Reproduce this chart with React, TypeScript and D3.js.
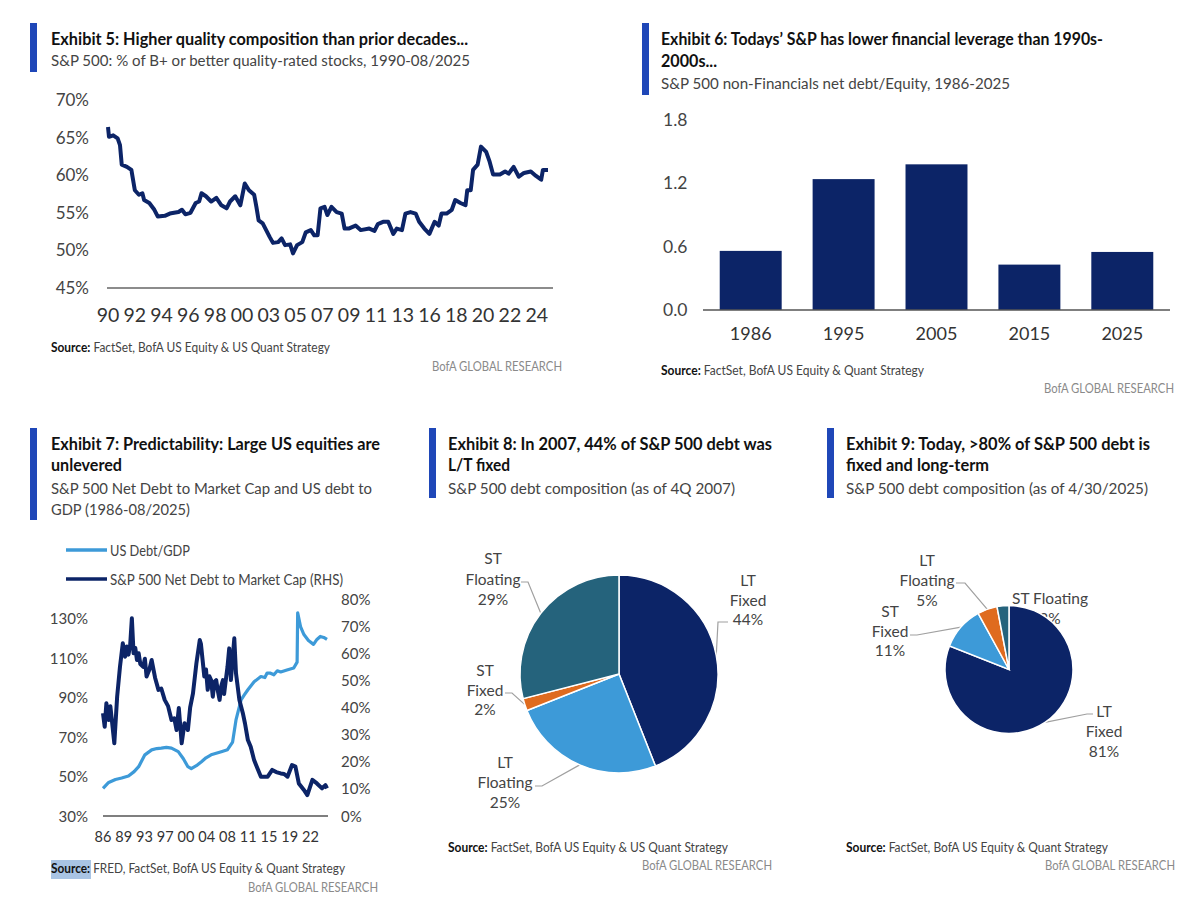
import React from 'react';
import * as d3 from 'd3';

const FONT = 'Lato, "Open Sans", sans-serif';
const NAVY = '#0c2467';
const LIGHT = '#3d9ad8';
const ORANGE = '#df6b1f';
const TEAL = '#25637c';
const BAR_BLUE = '#1f47b8';
const GREY = '#444';

// Exhibit 5: % of B+ or better quality-rated stocks (year, %)
const qualityTickLabels = ['90', '92', '94', '96', '98', '00', '03', '05', '07', '09', '11', '13', '16', '18', '20', '22', '24'];
const qualityYTicks = [45, 50, 55, 60, 65, 70];
const qualitySeries: [number, number][] = [
  [1990.0, 66.4], [1990.08, 65.1], [1990.42, 65.3], [1990.78, 64.9], [1990.97, 64.0], [1991.11, 61.4],
  [1991.53, 61.1], [1991.89, 60.7], [1992.17, 58.0], [1992.5, 57.4], [1992.78, 57.6], [1992.92, 56.7],
  [1993.34, 56.3], [1993.75, 55.4], [1994.03, 54.5], [1994.59, 54.6], [1995.0, 54.9], [1995.34, 55.0],
  [1995.7, 55.1], [1995.98, 55.4], [1996.26, 54.8], [1996.67, 55.0], [1997.09, 56.3], [1997.37, 56.5],
  [1997.56, 57.6], [1997.92, 57.2], [1998.34, 56.5], [1998.76, 57.0], [1999.17, 56.0], [1999.59, 55.6],
  [1999.87, 56.5], [2000.29, 57.2], [2000.7, 56.0], [2001.06, 58.9], [2001.4, 58.0], [2001.82, 57.4],
  [2002.0, 55.8], [2002.18, 54.0], [2002.51, 53.6], [2002.79, 52.7], [2003.07, 51.8], [2003.34, 51.0],
  [2003.76, 51.1], [2004.04, 51.6], [2004.32, 50.7], [2004.73, 50.8], [2004.96, 49.6], [2005.29, 50.7],
  [2005.71, 51.1], [2005.99, 52.4], [2006.4, 52.7], [2006.68, 52.0], [2006.95, 52.0], [2007.18, 55.6],
  [2007.51, 55.8], [2007.74, 54.7], [2008.07, 55.8], [2008.49, 55.1], [2008.9, 54.9], [2009.13, 52.9],
  [2009.46, 52.9], [2010.02, 53.3], [2010.43, 52.7], [2011.13, 52.9], [2011.55, 52.6], [2011.82, 53.5],
  [2012.24, 53.8], [2012.66, 53.8], [2013.07, 52.2], [2013.35, 52.9], [2013.77, 52.7], [2014.05, 54.9],
  [2014.46, 55.1], [2014.88, 54.9], [2015.16, 53.8], [2015.58, 52.9], [2015.99, 52.2], [2016.41, 53.8],
  [2016.74, 53.3], [2016.97, 54.9], [2017.38, 54.9], [2017.8, 55.4], [2018.08, 56.7], [2018.5, 56.3],
  [2018.91, 56.0], [2019.05, 58.0], [2019.33, 58.0], [2019.52, 60.7], [2019.89, 61.4], [2020.16, 63.8],
  [2020.58, 63.1], [2020.86, 61.8], [2021.14, 60.1], [2021.69, 60.1], [2022.11, 60.5], [2022.39, 60.2],
  [2022.8, 61.1], [2023.22, 59.8], [2023.64, 60.3], [2024.19, 60.5], [2024.61, 59.9], [2025.03, 59.4],
  [2025.17, 60.7], [2025.58, 60.7],
];

// Exhibit 6: net debt / equity
const leverageYears = ['1986', '1995', '2005', '2015', '2025'];
const leverageValues = [0.56, 1.24, 1.38, 0.43, 0.55];
const leverageTicks = [0, 0.6, 1.2, 1.8];

// Exhibit 7: US debt/GDP (LHS) and S&P 500 net debt to market cap (RHS)
const debtTickLabels = ['86', '89', '93', '97', '00', '04', '08', '11', '15', '19', '22'];
const leftTicks = [30, 50, 70, 90, 110, 130];
const rightTicks = [0, 10, 20, 30, 40, 50, 60, 70, 80];
const usDebtGdp: [number, number][] = [
  [1986.0, 44], [1986.5, 45.5], [1987.0, 47], [1988.2, 48.5], [1989.3, 49.3], [1990.5, 50.3],
  [1991.5, 52.5], [1992.3, 55], [1993.4, 61], [1994.6, 63.5], [1995.5, 64.2], [1996.3, 64.4],
  [1997.2, 64.8], [1998.1, 64.4], [1999.3, 62.6], [2000.2, 59], [2001.0, 55], [2001.6, 54],
  [2002.5, 55.5], [2003.4, 57.5], [2004.2, 59.5], [2005.1, 61], [2006.0, 61.8], [2006.9, 62.6],
  [2008.0, 63.6], [2008.9, 67.5], [2009.5, 78.7], [2010.4, 88.9], [2011.0, 91.5], [2011.6, 94],
  [2012.7, 98], [2013.9, 100.7], [2014.6, 100.2], [2015.0, 102.5], [2015.6, 102.4], [2016.2, 101.6],
  [2016.8, 103.6], [2017.4, 103], [2018.5, 104], [2019.7, 105], [2020.3, 108], [2020.4, 133],
  [2020.9, 126], [2021.5, 122], [2022.3, 119], [2023.2, 117], [2023.8, 119.5], [2024.4, 121],
  [2025.0, 120.5], [2025.58, 119.5],
];
const spNetDebt: [number, number][] = [
  [1986.0, 37.9], [1986.3, 32.9], [1986.6, 41.6], [1987.0, 35.4], [1987.3, 40.5], [1988.0, 26.8],
  [1988.5, 44], [1989.0, 55], [1989.5, 63.7], [1989.9, 58.7], [1990.2, 62.5], [1990.5, 59.5],
  [1990.8, 63], [1991.1, 72.9], [1991.4, 60], [1991.7, 62], [1992.0, 57.5], [1992.3, 60],
  [1992.6, 56], [1993.1, 55], [1993.4, 58], [1993.7, 51.4], [1994.2, 54], [1994.6, 57.5],
  [1995.2, 51], [1995.8, 46.5], [1996.3, 47], [1996.9, 42.8], [1997.5, 40.5], [1998.1, 35.4],
  [1998.6, 36], [1999.0, 31.7], [1999.4, 39.8], [1999.9, 26.8], [2000.4, 34.2], [2001.0, 31.7],
  [2001.4, 40], [2001.9, 45.2], [2002.5, 56.2], [2003.1, 64.9], [2003.3, 63.5], [2003.9, 51.4],
  [2004.2, 54], [2004.5, 46.5], [2004.8, 51.5], [2005.1, 50.1], [2005.4, 44], [2005.7, 49.5],
  [2006.0, 50.1], [2006.3, 46], [2006.6, 42.8], [2006.9, 48], [2007.2, 50.1], [2007.4, 45],
  [2007.7, 50.1], [2008.0, 55], [2008.3, 61.8], [2008.6, 50.1], [2008.9, 58], [2009.2, 65.5],
  [2009.5, 52.6], [2010.1, 42.8], [2010.7, 38], [2011.1, 34], [2011.6, 28], [2012.1, 25.5],
  [2012.7, 20.6], [2013.3, 17.5], [2013.9, 14.5], [2015.1, 14.5], [2015.9, 17], [2016.6, 16.2],
  [2017.4, 15.7], [2018.0, 15.5], [2018.6, 14.5], [2019.4, 18.8], [2020.0, 18.2], [2020.6, 12],
  [2021.5, 9.6], [2022.1, 7.7], [2023.0, 13.3], [2023.8, 12], [2024.7, 10.2], [2025.3, 11.4],
  [2025.58, 10.2],
];

// Exhibit 8 / 9: debt composition (%)
const debt2007Labels = ['LT Fixed', 'LT Floating', 'ST Fixed', 'ST Floating'];
const debt2007Values = [44, 25, 2, 29];
const debt2025Labels = ['LT Fixed', 'ST Fixed', 'LT Floating', 'ST Floating'];
const debt2025Values = [81, 11, 5, 3];
const sliceColors = [NAVY, LIGHT, ORANGE, TEAL];

type HLine = { text: string; y: number; w: number; bold?: boolean };

function Header({ barX, barY, barH, x, lines }: { barX: number; barY: number; barH: number; x: number; lines: HLine[] }) {
  return (
    <g>
      <rect x={barX} y={barY} width={7} height={barH} fill={BAR_BLUE} />
      {lines.map((l, i) => (
        <text key={i} x={x} y={l.y} textLength={l.w} lengthAdjust="spacingAndGlyphs"
          fontSize={l.bold ? 16.5 : 15.5} fontWeight={l.bold ? 700 : 400} fill={l.bold ? '#111' : GREY}>
          {l.text}
        </text>
      ))}
    </g>
  );
}

function Footer({ x, y, w, rest, right, y2, highlight }: { x: number; y: number; w: number; rest: string; right: number; y2: number; highlight?: boolean }) {
  return (
    <g>
      {highlight && <rect x={x} y={y - 13} width={40} height={19} fill="#a9c4e4" />}
      <text x={x} y={y} fontSize={12.5} textLength={w} lengthAdjust="spacingAndGlyphs" fill={GREY}>
        <tspan fontWeight={700} fill="#111">Source:</tspan>
        <tspan> {rest}</tspan>
      </text>
      <text x={right - 130} y={y2} fontSize={12.5} textLength={130} lengthAdjust="spacingAndGlyphs" fill="#8a8a8a">
        BofA GLOBAL RESEARCH
      </text>
    </g>
  );
}

type LabelLayout = { cx: number; ys: number[]; split: boolean; elbow?: [number, number]; end?: [number, number] };

function Pie({ cx, cy, r, labels, values, layout }: { cx: number; cy: number; r: number; labels: string[]; values: number[]; layout: LabelLayout[] }) {
  const arcs = d3.pie<number>().sort(null).value(d => d)(values);
  const arc = d3.arc<d3.PieArcDatum<number>>().innerRadius(0).outerRadius(r);
  const edge = (a: d3.PieArcDatum<number>): [number, number] => {
    const m = (a.startAngle + a.endAngle) / 2;
    return [cx + r * Math.sin(m), cy - r * Math.cos(m)];
  };
  return (
    <g>
      {arcs.map((a, i) => {
        const l = layout[i];
        const text = l.split ? [...labels[i].split(' '), `${values[i]}%`] : [labels[i], `${values[i]}%`];
        const p = edge(a);
        return (
          <g key={i}>
            {l.elbow && l.end && (
              <polyline points={`${p[0]},${p[1]} ${l.elbow[0]},${l.elbow[1]} ${l.end[0]},${l.end[1]}`}
                fill="none" stroke="#a0a0a0" strokeWidth={1.2} />
            )}
            {text.map((t, j) => (
              <text key={j} x={l.cx} y={l.ys[j]} textAnchor="middle" fontSize={15.5} fill={GREY}>{t}</text>
            ))}
          </g>
        );
      })}
      <g transform={`translate(${cx},${cy})`}>
        {arcs.map((a, i) => (
          <path key={i} d={arc(a) || ''} fill={sliceColors[i]} stroke="#fff" strokeWidth={1.5} />
        ))}
      </g>
    </g>
  );
}

export default function App() {
  // Exhibit 5
  const x5 = d3.scaleLinear().domain([1990, 2025.58]).range([108, 548]);
  const y5 = d3.scaleLinear().domain([45, 70]).range([288, 100]);
  const line5 = d3.line<[number, number]>().x(d => x5(d[0])).y(d => y5(d[1]));

  // Exhibit 6
  const x6 = d3.scaleBand<string>().domain(leverageYears).range([703, 1170]).paddingInner(0.333).paddingOuter(0.18);
  const y6 = d3.scaleLinear().domain([0, 1.8]).range([310, 120]);

  // Exhibit 7
  const x7 = d3.scaleLinear().domain([1986, 2025.58]).range([103, 327]);
  const yL = d3.scaleLinear().domain([30, 140]).range([816, 599]);
  const yR = d3.scaleLinear().domain([0, 80]).range([816, 599]);
  const lineL = d3.line<[number, number]>().x(d => x7(d[0])).y(d => yL(d[1]));
  const lineR = d3.line<[number, number]>().x(d => x7(d[0])).y(d => yR(d[1]));

  return (
    <svg width={1200} height={922} style={{ position: 'absolute', left: 0, top: 0, background: '#fff' }} fontFamily={FONT}>
      <rect width={1200} height={922} fill="#fff" />

      {/* Exhibit 5 */}
      <Header barX={30} barY={23} barH={49} x={51} lines={[
        { text: 'Exhibit 5: Higher quality composition than prior decades...', y: 44.5, w: 417, bold: true },
        { text: 'S&P 500: % of B+ or better quality-rated stocks, 1990-08/2025', y: 66, w: 419 },
      ]} />
      {qualityYTicks.map(t => (
        <text key={t} x={89} y={y5(t) + 6} textAnchor="end" fontSize={17} fill={GREY}>{t}%</text>
      ))}
      <line x1={107} x2={553} y1={y5(45)} y2={y5(45)} stroke="#666" strokeWidth={1.5} />
      {qualityTickLabels.map((lab, i) => (
        <text key={lab} x={x5(1990 + (i * 26) / 12)} y={322} textAnchor="middle" fontSize={19.5} fill="#333">{lab}</text>
      ))}
      <path d={line5(qualitySeries) || ''} fill="none" stroke={NAVY} strokeWidth={4} strokeLinejoin="round" />
      <Footer x={51} y={351.5} w={279} rest="FactSet, BofA US Equity & US Quant Strategy" right={562} y2={370.5} />

      {/* Exhibit 6 */}
      <Header barX={642} barY={23} barH={72} x={661} lines={[
        { text: 'Exhibit 6: Todays’ S&P has lower financial leverage than 1990s-', y: 45, w: 442, bold: true },
        { text: '2000s...', y: 67, w: 56, bold: true },
        { text: 'S&P 500 non-Financials net debt/Equity, 1986-2025', y: 89, w: 349 },
      ]} />
      {leverageTicks.map(t => (
        <text key={t} x={663} y={y6(t) + 6} fontSize={17.5} fill={GREY}>{t.toFixed(1)}</text>
      ))}
      {leverageYears.map((yr, i) => (
        <rect key={yr} x={x6(yr)} y={y6(leverageValues[i])} width={x6.bandwidth()}
          height={y6(0) - y6(leverageValues[i])} fill={NAVY} />
      ))}
      <line x1={703} x2={1170} y1={y6(0)} y2={y6(0)} stroke="#555" strokeWidth={1.5} />
      {leverageYears.map(yr => (
        <text key={yr} x={(x6(yr) || 0) + x6.bandwidth() / 2} y={340} textAnchor="middle" fontSize={18} fill="#333">{yr}</text>
      ))}
      <Footer x={661} y={375} w={263} rest="FactSet, BofA US Equity & Quant Strategy" right={1174} y2={393} />

      {/* Exhibit 7 */}
      <Header barX={30} barY={428} barH={92} x={51} lines={[
        { text: 'Exhibit 7: Predictability: Large US equities are', y: 449.5, w: 329, bold: true },
        { text: 'unlevered', y: 471, w: 71, bold: true },
        { text: 'S&P 500 Net Debt to Market Cap and US debt to', y: 493.5, w: 321 },
        { text: 'GDP (1986-08/2025)', y: 515, w: 139 },
      ]} />
      <line x1={66} x2={107} y1={550} y2={550} stroke={LIGHT} strokeWidth={3.5} />
      <text x={110} y={555.5} fontSize={15} textLength={80} lengthAdjust="spacingAndGlyphs" fill={GREY}>US Debt/GDP</text>
      <line x1={66} x2={107} y1={579} y2={579} stroke={NAVY} strokeWidth={3.5} />
      <text x={110} y={584.5} fontSize={15} textLength={233} lengthAdjust="spacingAndGlyphs" fill={GREY}>S&amp;P 500 Net Debt to Market Cap (RHS)</text>
      {leftTicks.map(t => (
        <text key={t} x={88} y={yL(t) + 5.5} textAnchor="end" fontSize={15} fill={GREY}>{t}%</text>
      ))}
      {rightTicks.map(t => (
        <text key={t} x={341} y={yR(t) + 5.5} fontSize={15} fill={GREY}>{t}%</text>
      ))}
      <line x1={103} x2={328} y1={816} y2={816} stroke="#555" strokeWidth={1.5} />
      {debtTickLabels.map((lab, i) => (
        <text key={lab} x={x7(1986 + (i * 44) / 12)} y={842} textAnchor="middle" fontSize={14.5} fill="#333">{lab}</text>
      ))}
      <path d={lineL(usDebtGdp) || ''} fill="none" stroke={LIGHT} strokeWidth={3.2} strokeLinejoin="round" />
      <path d={lineR(spNetDebt) || ''} fill="none" stroke={NAVY} strokeWidth={4} strokeLinejoin="round" />
      <Footer x={51} y={873} w={294} rest="FRED, FactSet, BofA US Equity & Quant Strategy" right={378} y2={891.5} highlight />

      {/* Exhibit 8 */}
      <Header barX={429} barY={428} barH={70} x={448} lines={[
        { text: 'Exhibit 8: In 2007, 44% of S&P 500 debt was', y: 450, w: 324, bold: true },
        { text: 'L/T fixed', y: 471, w: 62, bold: true },
        { text: 'S&P 500 debt composition (as of 4Q 2007)', y: 493.5, w: 287 },
      ]} />
      <Pie cx={619} cy={674} r={99} labels={debt2007Labels} values={debt2007Values} layout={[
        { cx: 748, ys: [586, 605.5, 625], split: true, elbow: [718, 622], end: [728, 622] },
        { cx: 505, ys: [768, 788, 808], split: true, elbow: [542, 786], end: [535, 786] },
        { cx: 485, ys: [676, 695.5, 715], split: true, elbow: [512, 693], end: [505, 693] },
        { cx: 493, ys: [564, 585, 605], split: true, elbow: [528, 582], end: [521, 582] },
      ]} />
      <Footer x={448} y={851.5} w={280} rest="FactSet, BofA US Equity & US Quant Strategy" right={772} y2={870} />

      {/* Exhibit 9 */}
      <Header barX={827} barY={428} barH={70} x={846} lines={[
        { text: 'Exhibit 9: Today, >80% of S&P 500 debt is', y: 450, w: 304, bold: true },
        { text: 'fixed and long-term', y: 471, w: 143, bold: true },
        { text: 'S&P 500 debt composition (as of 4/30/2025)', y: 493.5, w: 302 },
      ]} />
      <Pie cx={1009} cy={669.5} r={64} labels={debt2025Labels} values={debt2025Values} layout={[
        { cx: 1104, ys: [717, 737, 757], split: true, elbow: [1087, 714], end: [1093, 714] },
        { cx: 890, ys: [617, 637, 656], split: true, elbow: [917, 635], end: [910, 635] },
        { cx: 927, ys: [566, 586, 606], split: true, elbow: [965, 583], end: [956, 583] },
        { cx: 1050, ys: [604, 623.5], split: false },
      ]} />
      <Footer x={846} y={851.5} w={262} rest="FactSet, BofA US Equity & Quant Strategy" right={1175} y2={870} />
    </svg>
  );
}
